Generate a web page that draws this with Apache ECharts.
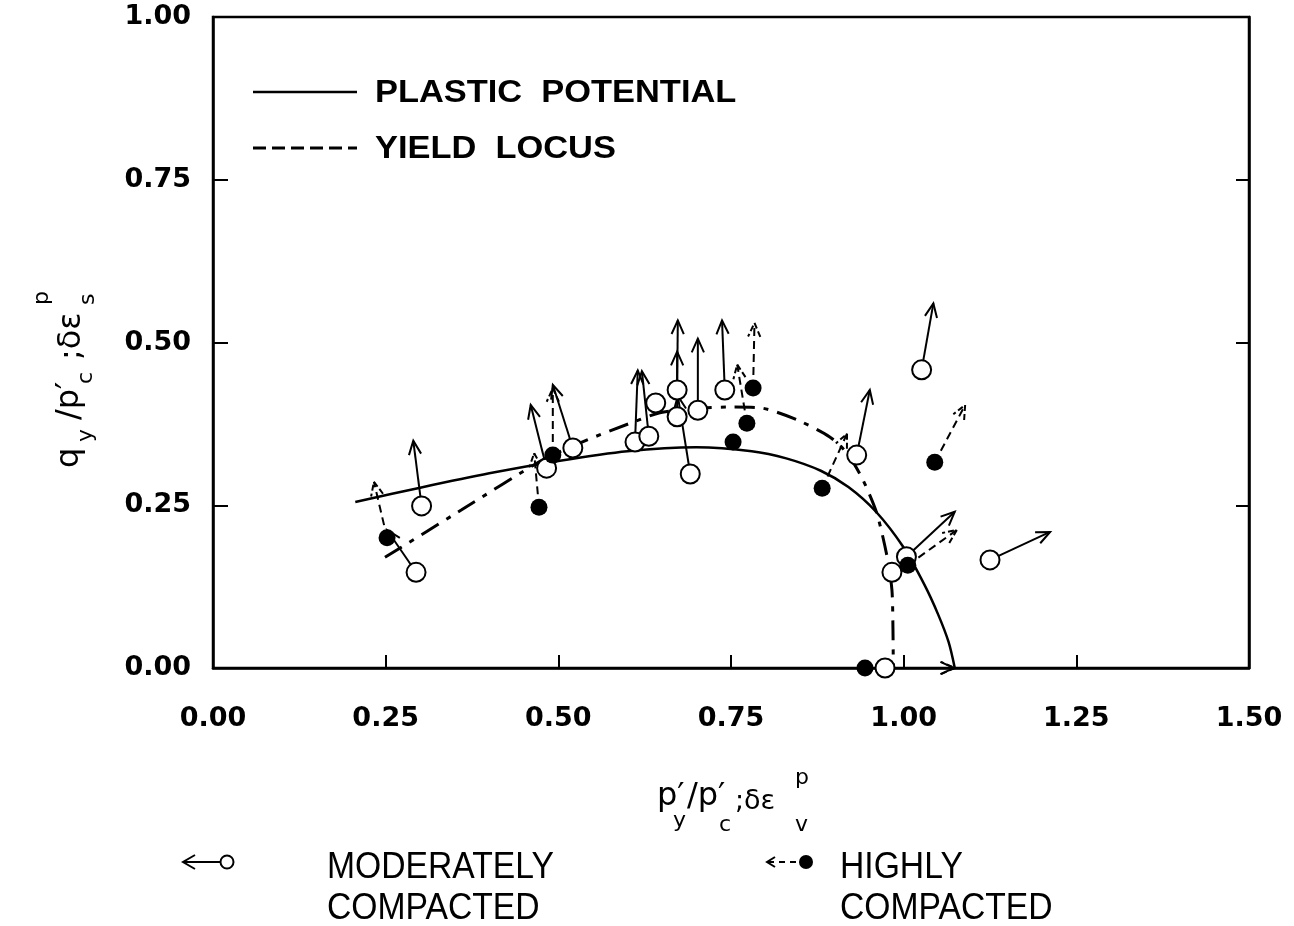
<!DOCTYPE html>
<html><head><meta charset="utf-8">
<script src="https://cdn.jsdelivr.net/npm/echarts@6/dist/echarts.min.js"></script>
<style>html,body{margin:0;padding:0;background:#fff}#c{width:1294px;height:926px}</style>
</head><body><div id="c"></div>
<script>
// ---- data ----
const xTicks = [0, 0.25, 0.5, 0.75, 1.0, 1.25, 1.5];
const yTicks = [0, 0.25, 0.5, 0.75, 1.0];

// Plastic potential curve (q/p'c vs p'/p'c)
const ppX = [0.206, 0.30, 0.40, 0.50, 0.60, 0.70, 0.78, 0.83, 0.88, 0.92, 0.96, 1.00, 1.03, 1.05, 1.065, 1.074];
const ppY = [0.255, 0.277, 0.299, 0.318, 0.333, 0.339, 0.333, 0.322, 0.303, 0.278, 0.240, 0.185, 0.128, 0.082, 0.040, 0.0];

// Yield locus
const ylX = [0.249, 0.36, 0.478, 0.541, 0.604, 0.647, 0.700, 0.753, 0.796, 0.846, 0.893, 0.918, 0.941, 0.961, 0.976, 0.983, 0.9845, 0.985];
const ylY = [0.170, 0.243, 0.320, 0.350, 0.376, 0.392, 0.399, 0.401, 0.399, 0.381, 0.355, 0.330, 0.289, 0.238, 0.171, 0.120, 0.060, 0.0];

// Moderately compacted: yield points and plastic strain increment vectors
const modX  = [0.294, 0.302, 0.483, 0.521, 0.611, 0.631, 0.641, 0.672, 0.672, 0.691, 0.702, 0.741, 0.932, 1.026, 1.004, 0.983, 1.125, 0.973];
const modY  = [0.147, 0.249, 0.307, 0.338, 0.347, 0.356, 0.407, 0.427, 0.386, 0.298, 0.396, 0.427, 0.327, 0.458, 0.171, 0.147, 0.166, 0.0];
const modDX = [-0.042, -0.012, -0.023, -0.029, 0.004, -0.010, null, 0.001, 0.000, -0.018, 0.000, -0.004, 0.019, 0.017, 0.070, null, 0.087, 0.10];
const modDY = [0.065, 0.100, 0.097, 0.097, 0.110, 0.100, null, 0.107, 0.100, 0.120, 0.110, 0.107, 0.100, 0.102, 0.069, null, 0.043, 0.0];

// Highly compacted
const highX  = [0.252, 0.472, 0.492, 0.753, 0.773, 0.782, 0.882, 1.045, 1.006, 0.944];
const highY  = [0.200, 0.247, 0.327, 0.347, 0.376, 0.430, 0.276, 0.316, 0.158, 0.0];
const highDX = [-0.019, -0.007, 0.000, null, -0.014, 0.002, 0.036, 0.044, 0.071, 0.13];
const highDY = [0.086, 0.083, 0.103, null, 0.090, 0.100, 0.084, 0.088, 0.054, 0.0];

// ---- build ----
const zip = (a, b) => a.map((v, i) => [v, b[i]]);
const vec = (x, y, dx, dy) => x.map((v, i) => [v, y[i], dx[i], dy[i]]).filter(d => d[2] !== null);

function arrowRender(dashed) {
  return function (params, api) {
    const x = api.value(0), y = api.value(1), dx = api.value(2), dy = api.value(3);
    const p0 = api.coord([x, y]);
    const p1 = api.coord([x + dx, y + dy]);
    const ang = Math.atan2(p1[1] - p0[1], p1[0] - p0[0]);
    const L = 15, a = 0.42;
    const h1 = [p1[0] - L * Math.cos(ang - a), p1[1] - L * Math.sin(ang - a)];
    const h2 = [p1[0] - L * Math.cos(ang + a), p1[1] - L * Math.sin(ang + a)];
    return {
      type: 'group',
      children: [
        { type: 'line', shape: { x1: p0[0], y1: p0[1], x2: p1[0], y2: p1[1] },
          style: { stroke: '#000', lineWidth: 2, fill: null, lineDash: dashed ? [8, 5] : null } },
        { type: 'polyline', shape: { points: [h1, p1, h2] },
          style: { stroke: '#000', lineWidth: 2, fill: null, lineDash: dashed ? [6, 3] : null } }
      ]
    };
  };
}

const chart = echarts.init(document.getElementById('c'), null, { renderer: 'canvas' });
const tickFont = { fontFamily: 'DejaVu Sans', fontWeight: 'bold', fontSize: 27, color: '#000' };
const mainFont = 'DejaVu Sans';

function txt(x, y, text, size, opts) {
  return Object.assign({ type: 'text', x: x, y: y,
    style: { text: text, font: (opts && opts.font) || (size + 'px ' + mainFont), fill: '#000',
      textAlign: 'left', textVerticalAlign: 'middle', align: 'left', verticalAlign: 'middle' } }, opts && opts.el);
}
const legFont = { el: { scaleX: 1.11 }, font: 'bold 31px "Liberation Sans"' };
const botFont = { el: { scaleX: 0.91 }, font: '37px "Liberation Sans"' };

const option = {
  animation: false,
  backgroundColor: '#fff',
  grid: { left: 213, right: 45, top: 17, bottom: 258, show: true, borderColor: '#000', borderWidth: 2.5 },
  xAxis: [{
    type: 'value', min: 0, max: 1.5, interval: 0.25,
    axisLine: { show: true, lineStyle: { color: '#000', width: 2.5 } },
    axisTick: { show: true, inside: true, length: 13, lineStyle: { color: '#000', width: 2 } },
    axisLabel: Object.assign({ margin: 37, formatter: v => v.toFixed(2) }, tickFont),
    splitLine: { show: false }
  }],
  yAxis: [{
    type: 'value', min: 0, max: 1.0, interval: 0.25,
    axisLine: { show: true, lineStyle: { color: '#000', width: 2.5 } },
    axisTick: { show: true, inside: true, length: 15, lineStyle: { color: '#000', width: 2 } },
    axisLabel: Object.assign({ margin: 22, formatter: v => v.toFixed(2) }, tickFont),
    splitLine: { show: false }
  }, {
    type: 'value', min: 0, max: 1.0, interval: 0.25, position: 'right',
    axisLine: { show: true, lineStyle: { color: '#000', width: 2.5 } },
    axisTick: { show: true, inside: true, length: 13, lineStyle: { color: '#000', width: 2 } },
    axisLabel: { show: false }, splitLine: { show: false }
  }],
  series: [
    { name: 'PLASTIC POTENTIAL', type: 'line', data: zip(ppX, ppY), smooth: 0.3, showSymbol: false, z: 2,
      lineStyle: { color: '#000', width: 2.5, type: 'solid' } },
    { name: 'YIELD LOCUS', type: 'line', data: zip(ylX, ylY), smooth: 0.25, showSymbol: false, z: 2,
      lineStyle: { color: '#000', width: 3, type: [20, 9, 5, 9] } },
    { type: 'custom', renderItem: arrowRender(false), data: vec(modX, modY, modDX, modDY), z: 3,
      encode: { x: 0, y: 1 }, clip: false },
    { type: 'custom', renderItem: arrowRender(true), data: vec(highX, highY, highDX, highDY), z: 3,
      encode: { x: 0, y: 1 }, clip: false },
    { name: 'MODERATELY COMPACTED', type: 'scatter', data: zip(modX, modY), symbol: 'circle', symbolSize: 19, z: 4,
      itemStyle: { color: '#fff', borderColor: '#000', borderWidth: 2, opacity: 1 } },
    { name: 'HIGHLY COMPACTED', type: 'scatter', data: zip(highX, highY), symbol: 'circle', symbolSize: 17, z: 5,
      itemStyle: { color: '#000', opacity: 1 } }
  ],
  graphic: [
    // top legend
    { type: 'line', shape: { x1: 253, y1: 92, x2: 357, y2: 92 }, style: { stroke: '#000', lineWidth: 2.5 } },
    txt(375, 93, 'PLASTIC  POTENTIAL', 31, legFont),
    { type: 'line', shape: { x1: 253, y1: 148, x2: 357, y2: 148 }, style: { stroke: '#000', lineWidth: 3, lineDash: [13, 6] } },
    txt(375, 149, 'YIELD  LOCUS', 31, legFont),
    // x axis name
    txt(657, 797, 'p′', 32),
    txt(673, 821, 'y', 22),
    txt(687, 797, '/p′', 32),
    txt(719, 825, 'c', 22),
    txt(735, 802, ';δε', 27),
    txt(795, 825, 'v', 22),
    txt(795, 778, 'p', 22),
    // y axis name (rotated group)
    { type: 'group', x: 70, y: 468, rotation: Math.PI / 2, children: [
      txt(0, 0, 'q', 32),
      txt(26, 16, 'y', 22),
      txt(48, 0, '/p′', 32),
      txt(84, 16, 'c', 22),
      txt(108, 2, ';δε', 32),
      txt(163, 18, 's', 22),
      txt(163, -28, 'p', 22)
    ] },
    // bottom legend: moderately
    { type: 'line', shape: { x1: 183, y1: 862, x2: 221, y2: 862 }, style: { stroke: '#000', lineWidth: 2 } },
    { type: 'polyline', shape: { points: [[195, 855], [183, 862], [195, 869]] }, style: { stroke: '#000', lineWidth: 2, fill: null } },
    { type: 'circle', shape: { cx: 227, cy: 862, r: 6.5 }, style: { stroke: '#000', lineWidth: 2, fill: '#fff' } },
    txt(327, 868, 'MODERATELY', 37, botFont),
    txt(327, 909, 'COMPACTED', 37, botFont),
    // bottom legend: highly
    { type: 'line', shape: { x1: 768, y1: 862, x2: 803, y2: 862 }, style: { stroke: '#000', lineWidth: 2, lineDash: [6, 5] } },
    { type: 'polyline', shape: { points: [[775, 857], [767, 862], [775, 867]] }, style: { stroke: '#000', lineWidth: 2, fill: null } },
    { type: 'circle', shape: { cx: 806, cy: 862, r: 7 }, style: { fill: '#000' } },
    txt(840, 868, 'HIGHLY', 37, botFont),
    txt(840, 909, 'COMPACTED', 37, botFont)
  ]
};
chart.setOption(option);
</script></body></html>
